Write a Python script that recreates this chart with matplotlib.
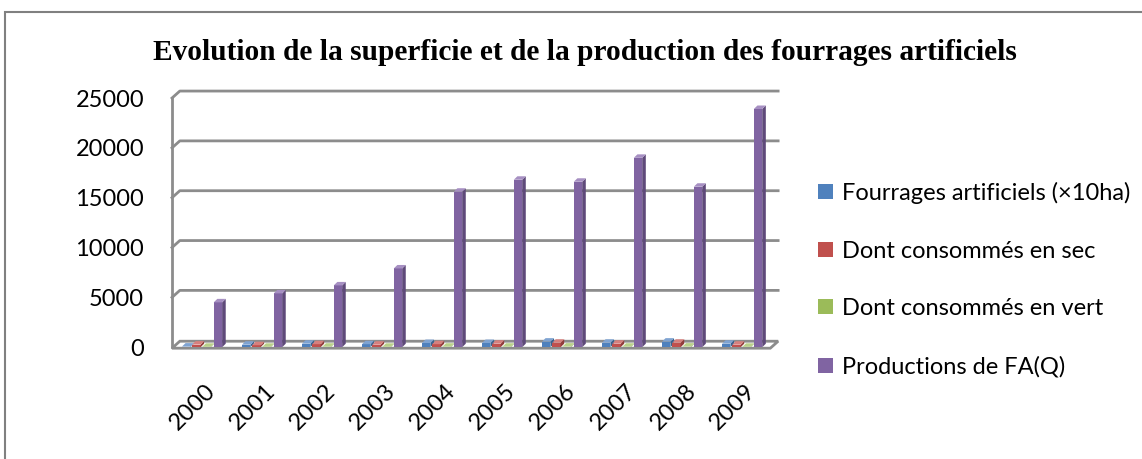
import numpy as np
import matplotlib.pyplot as plt
from matplotlib.patches import Polygon, Rectangle, Patch

years = ['2000', '2001', '2002', '2003', '2004', '2005', '2006', '2007', '2008', '2009']
fourrages = [60, 250, 350, 300, 420, 420, 560, 450, 560, 350]
sec = [260, 200, 300, 250, 300, 350, 450, 350, 450, 250]
vert = [40, 40, 50, 40, 50, 50, 60, 50, 60, 40]
production = [4500, 5400, 6200, 7900, 15600, 16800, 16600, 19000, 16100, 23900]

series = [
    ('Fourrages artificiels (×10ha)', fourrages, '#4F81BD', '#3A6390', '#7FA3D1'),
    ('Dont consommés en sec', sec, '#C0504D', '#923C3A', '#D6807E'),
    ('Dont consommés en vert', vert, '#9BBB59', '#768F43', '#B9D089'),
    ('Productions de FA(Q)', production, '#8064A2', '#5F4A7A', '#A68FC2'),
]
offsets = [-0.29, -0.12, 0.05, 0.24]
width = 0.19

plt.rcParams['font.family'] = ['Lato', 'DejaVu Sans']

fig = plt.figure(figsize=(11.42, 4.59), dpi=100)
ax = fig.add_axes([0.148, 0.211, 0.536, 0.608])
ax.set_xlim(-0.6, 9.6)
ax.set_ylim(-1500, 26500)
for s in ax.spines.values():
    s.set_visible(False)

# depth of the 3D box in data units
ddx, ddy = 0.13, 700
x0, x1 = -0.55, 9.42
grid = '#8C8C8C'

# floor
ax.add_patch(Polygon([(x0, -100), (x1, -100), (x1 + ddx, -100 + ddy), (x0 + ddx, -100 + ddy)],
                     closed=True, fc='white', ec=grid, lw=2, zorder=1))
ticks = [0, 5000, 10000, 15000, 20000, 25000]
for v in ticks[1:]:
    ax.plot([x0, x0 + ddx, x1 + ddx], [v, v + ddy, v + ddy], color=grid, lw=2, zorder=0)
ax.plot([x0, x0], [0, 25000], color=grid, lw=2, zorder=0)

# bars with side and top faces
bdx, bdy = 0.06, 350
x = np.arange(len(years))
for (label, vals, c, dark, light), off in zip(series, offsets):
    for xi, h in zip(x + off, vals):
        l, r = xi - width / 2, xi + width / 2 - 0.05
        ax.add_patch(Rectangle((l, 0), r - l, h, fc=c, ec='none', zorder=3))
        ax.add_patch(Polygon([(r, 0), (r + bdx, bdy), (r + bdx, h + bdy), (r, h)],
                             closed=True, fc=dark, ec='none', zorder=3))
        ax.add_patch(Polygon([(l, h), (r, h), (r + bdx, h + bdy), (l + bdx, h + bdy)],
                             closed=True, fc=light, ec='none', zorder=3))

ax.set_yticks(ticks)
ax.set_yticklabels([str(t) for t in ticks], fontsize=17)
ax.set_xticks(x)
ax.set_xticklabels(years, fontsize=17, rotation=45, ha='right', va='top',
                   rotation_mode='anchor')
ax.tick_params(axis='both', length=0)
ax.tick_params(axis='x', pad=13)
ax.tick_params(axis='y', pad=18)

handles = [Patch(fc=c, ec='none') for _, _, c, _, _ in series]
fig.legend(handles, [s[0] for s in series], loc='upper left',
           bbox_to_anchor=(0.698, 0.65), frameon=False, fontsize=17,
           handlelength=0.6, handleheight=0.6, handletextpad=0.4,
           labelspacing=1.55)

fig.text(0.512, 0.885, 'Evolution de la superficie et de la production des fourrages artificiels',
         ha='center', va='center', fontsize=21.2, fontweight='bold',
         family='Liberation Serif')

# outer frame
fig.patches.append(Rectangle((5 / 1142, -0.05), 1.1, 1 - 12 / 459 + 0.05,
                             transform=fig.transFigure, fill=False,
                             ec='#808080', lw=1.5))

fig.savefig('out.png', dpi=100)
